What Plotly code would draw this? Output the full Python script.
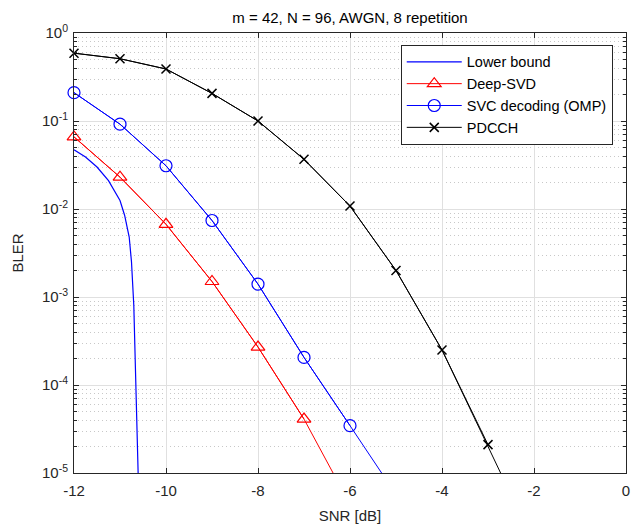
import numpy as np
import plotly.graph_objects as go

# ---------------- data ----------------
lower_x = [-12, -11.75, -11.5, -11.25, -11.0, -10.9, -10.8, -10.75, -10.7, -10.65, -10.6, -10.58]
lower_y = [0.047, 0.039, 0.030, 0.021, 0.0125, 0.0085, 0.0048, 0.0025, 0.0008, 0.00012, 0.000012, 0.000003]

deep_x = [-12, -11, -10, -9, -8, -7, -6]
deep_y = [0.066, 0.023, 0.0067, 0.0015, 0.00027, 0.000041, 0.0000044]

svc_x = [-12, -11, -10, -9, -8, -7, -6, -5]
svc_y = [0.21, 0.092, 0.031, 0.0074, 0.0014, 0.000206, 0.0000345, 0.0000057]

pdcch_x = [-12, -11, -10, -9, -8, -7, -6, -5, -4, -3, -2]
pdcch_y = [0.59, 0.51, 0.39, 0.206, 0.1, 0.0367, 0.0108, 0.002, 0.00025, 0.000021, 0.0000016]

x_tickvals = [-12, -10, -8, -6, -4, -2, 0]
x_ticktext = ["-12", "-10", "-8", "-6", "-4", "-2", "0"]
y_tickvals = [1e-5, 1e-4, 1e-3, 1e-2, 1e-1, 1]
y_ticktext = ["10<sup>-5</sup>", "10<sup>-4</sup>", "10<sup>-3</sup>",
              "10<sup>-2</sup>", "10<sup>-1</sup>", "10<sup>0</sup>"]

title_text = "m = 42, N = 96, AWGN, 8 repetition"
YMIN = 1e-5

# ---------------- figure ----------------
FONT = "Liberation Sans, Arial, Helvetica, sans-serif"
TXT = "#262626"

fig = go.Figure()


def add_series(name, xs, ys, color, symbol, msize, mline):
    xs = np.asarray(xs, float)
    ys = np.asarray(ys, float)
    mask = ys >= YMIN
    fig.add_trace(go.Scatter(x=xs, y=ys, mode="lines", showlegend=False,
                             line=dict(color=color, width=1), hoverinfo="skip"))
    fig.add_trace(go.Scatter(x=xs[mask], y=ys[mask], mode="lines+markers", name=name,
                             cliponaxis=False,
                             line=dict(color=color, width=1),
                             marker=dict(symbol=symbol, size=msize, color=color,
                                         line=dict(color=color, width=mline))))


fig.add_trace(go.Scatter(x=lower_x, y=lower_y, mode="lines", name="Lower bound",
                         line=dict(color="#0000ff", width=1.2)))
add_series("Deep-SVD", deep_x, deep_y, "#ff0000", "triangle-up-open", 12, 1.2)
add_series("SVC decoding (OMP)", svc_x, svc_y, "#0000ff", "circle-open", 12, 1.2)
add_series("PDCCH", pdcch_x, pdcch_y, "#000000", "x-thin-open", 9, 1.5)

minor_vals = [m * 10.0 ** e for e in range(-5, 0) for m in range(2, 10)]

fig.update_layout(
    width=637, height=532,
    margin=dict(l=74, r=7, t=33, b=59),
    paper_bgcolor="white", plot_bgcolor="white",
    font=dict(family=FONT, size=15, color=TXT),
    title=dict(text=title_text, x=0.5, xref="paper", xanchor="center",
               y=1 - 18 / 532, yref="container", yanchor="middle",
               font=dict(family=FONT, size=15, color="#000000")),
    showlegend=True,
    legend=dict(x=0.976, y=0.973, xanchor="right", yanchor="top",
                bgcolor="white", bordercolor="#262626", borderwidth=1,
                font=dict(family=FONT, size=14.5, color="#000000"),
                tracegroupgap=0, itemwidth=55),
)

fig.update_xaxes(
    range=[-12, 0], tickmode="array", tickvals=x_tickvals, ticktext=x_ticktext,
    showline=True, linecolor=TXT, linewidth=1, mirror="allticks",
    ticks="inside", ticklen=5, tickcolor=TXT, zeroline=False,
    showgrid=True, gridcolor="#e0e0e0", gridwidth=1,
    tickfont=dict(family=FONT, size=15, color=TXT), ticklabelstandoff=4,
    title=dict(text="SNR [dB]", standoff=12, font=dict(family=FONT, size=15, color=TXT)),
)

fig.update_yaxes(
    type="log", range=[-5, 0], tickmode="array", tickvals=y_tickvals, ticktext=y_ticktext,
    showline=True, linecolor=TXT, linewidth=1, mirror="allticks",
    ticks="inside", ticklen=5, tickcolor=TXT, zeroline=False,
    showgrid=True, gridcolor="#e0e0e0", gridwidth=1,
    tickfont=dict(family=FONT, size=15, color=TXT), ticklabelstandoff=2,
    minor=dict(tickmode="array", tickvals=minor_vals, ticks="inside", ticklen=3,
               tickcolor=TXT, showgrid=True, gridcolor="#c8c8c8",
               griddash="1px,3px", gridwidth=1),
    title=dict(text="BLER", standoff=14, font=dict(family=FONT, size=15, color=TXT)),
)

fig.write_html("out.html", config={"displayModeBar": False},
               post_script="document.body.style.margin='0px';")
